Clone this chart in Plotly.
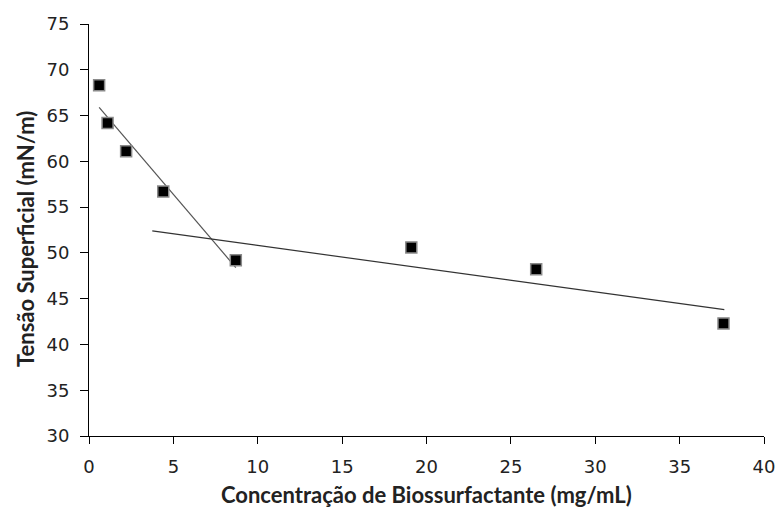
import plotly.graph_objects as go

conc = [0.6, 1.1, 2.2, 4.4, 8.7, 19.1, 26.5, 37.6]
tension = [68.3, 64.2, 61.1, 56.7, 49.2, 50.6, 48.2, 42.3]

trend1_x = [0.6, 8.7]
trend1_y = [65.9, 48.4]
trend2_x = [3.75, 37.65]
trend2_y = [52.4, 43.8]

x_ticks = [0, 5, 10, 15, 20, 25, 30, 35, 40]
y_ticks = [30, 35, 40, 45, 50, 55, 60, 65, 70, 75]

x_title = "<b>Concentração de Biossurfactante (mg/mL)</b>"
y_title = "<b>Tensão Superficial (mN/m)</b>"

fig = go.Figure()
fig.add_trace(go.Scatter(x=trend1_x, y=trend1_y, mode="lines",
                         line=dict(color="#555555", width=1.2), showlegend=False))
fig.add_trace(go.Scatter(x=trend2_x, y=trend2_y, mode="lines",
                         line=dict(color="#333333", width=1.2), showlegend=False))
fig.add_trace(go.Scatter(x=conc, y=tension, mode="markers",
                         marker=dict(symbol="square", size=11, color="black",
                                     line=dict(color="#8a8a8a", width=1.5)),
                         showlegend=False))

axis_font = dict(family="DejaVu Sans", size=18, color="#222222")
title_font = dict(family="Lato", size=22, color="#222222")
fig.update_layout(
    width=777, height=507,
    margin=dict(l=89, r=13, t=24, b=71),
    paper_bgcolor="white", plot_bgcolor="white",
    xaxis=dict(range=[0, 40], tickvals=x_ticks, showgrid=False, zeroline=False,
               showline=True, linecolor="black", linewidth=1,
               ticks="outside", ticklen=7, tickcolor="black",
               tickfont=axis_font, automargin=False, ticklabelstandoff=7),
    yaxis=dict(range=[30, 75], tickvals=y_ticks, showgrid=False, zeroline=False,
               showline=True, linecolor="black", linewidth=1,
               ticks="outside", ticklen=8, tickcolor="black",
               tickfont=axis_font, automargin=False, ticklabelstandoff=7),
    annotations=[
        dict(text=x_title, xref="paper", yref="paper", x=0.5, y=-0.141,
             xanchor="center", yanchor="middle", showarrow=False, font=title_font),
        dict(text=y_title, xref="paper", yref="paper", x=-0.0948, y=0.478,
             xanchor="center", yanchor="middle", textangle=-90, showarrow=False,
             font=title_font),
    ],
)
fig.write_html("out.html", config={"displayModeBar": False},
               post_script="document.body.style.margin='0';")
